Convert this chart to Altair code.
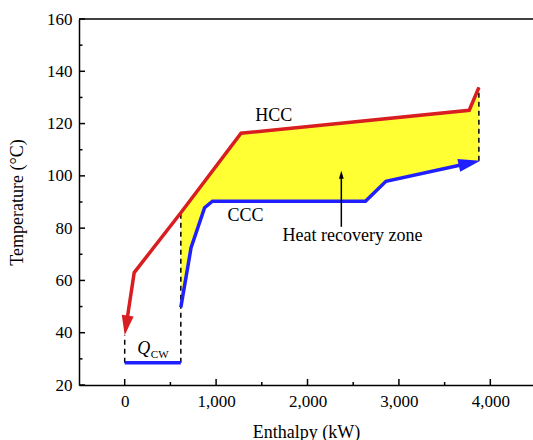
import altair as alt
import numpy as np
import pandas as pd

# ---- data ----
hcc_x = [16, 104, 614, 1273, 3769, 3875]
hcc_y = [42.8, 63, 85.9, 116.3, 125.1, 133.8]
hcc_tip = (0, 39)

ccc_x = [614, 726, 874, 960, 2634, 2858, 3790]
ccc_y = [49.7, 72.5, 87.8, 90.3, 90.3, 97.9, 105.0]
ccc_tip = (3890, 105.8)

qcw_x = [0, 614]
qcw_y = [28.5, 28.5]

dash_x = [0, 614, 3875]
dash_y1 = [28.5, 28.5, 105.8]
dash_y2 = [39, 85.9, 133.8]

x_major = [0, 1000, 2000, 3000, 4000]
x_minor = [500, 1500, 2500, 3500]
y_major = [20, 40, 60, 80, 100, 120, 140, 160]
y_minor = [30, 50, 70, 90, 110, 130, 150]

W, H = 454, 366
FONT = "Liberation Serif"
RED = "#d81e20"
BLUE = "#1f1fff"
YELLOW = "#ffff33"

xs = alt.Scale(domain=[-500, 4467], nice=False, zero=False)
ys = alt.Scale(domain=[20, 160], nice=False, zero=False)
common_axis = dict(ticks=False, grid=False, labelFont=FONT, titleFont=FONT,
                   labelFontSize=17, titleFontSize=18, titleFontWeight="normal",
                   labelColor="black", titleColor="black", domainColor="black",
                   domainWidth=1.5)
xaxis = alt.Axis(title="Enthalpy (kW)", values=x_major, format=",d",
                 labelPadding=8, titlePadding=14, **common_axis)
yaxis = alt.Axis(title="Temperature (°C)", values=y_major,
                 labelPadding=7, titlePadding=20, **common_axis)


def X(f):
    return alt.X(f, type="quantitative", scale=xs, axis=xaxis)


def Y(f):
    return alt.Y(f, type="quantitative", scale=ys, axis=yaxis)


# fill between curves
full_hx = [hcc_tip[0]] + hcc_x
full_hy = [hcc_tip[1]] + hcc_y
full_cx = ccc_x + [ccc_tip[0]]
full_cy = ccc_y + [ccc_tip[1]]
grid = sorted(set([v for v in hcc_x + ccc_x if 614 <= v <= 3875] + [3875]))
fill_df = pd.DataFrame({
    "x": grid,
    "top": np.interp(grid, full_hx, full_hy),
    "bot": np.interp(grid, full_cx, full_cy),
})
fill = alt.Chart(fill_df).mark_area(color=YELLOW, opacity=1).encode(
    x=X("x"), y=Y("top"), y2="bot")

hcc_df = pd.DataFrame({"x": hcc_x, "y": hcc_y, "o": range(len(hcc_x))})
ccc_df = pd.DataFrame({"x": ccc_x, "y": ccc_y, "o": range(len(ccc_x))})
qcw_df = pd.DataFrame({"x": qcw_x, "y": qcw_y, "o": range(len(qcw_x))})

hcc = alt.Chart(hcc_df).mark_line(color=RED, strokeWidth=3.5).encode(
    x=X("x"), y=Y("y"), order="o:Q")
ccc = alt.Chart(ccc_df).mark_line(color=BLUE, strokeWidth=3.5).encode(
    x=X("x"), y=Y("y"), order="o:Q")
qcw = alt.Chart(qcw_df).mark_line(color=BLUE, strokeWidth=3.5).encode(
    x=X("x"), y=Y("y"), order="o:Q")

dash_df = pd.DataFrame({"x": dash_x, "y1": dash_y1, "y2": dash_y2})
dashes = alt.Chart(dash_df).mark_rule(color="black", strokeWidth=1.5,
                                      strokeDash=[5, 4]).encode(
    x=X("x"), y=Y("y1"), y2="y2")

ARROW = "M0,0L0.6,2L-0.6,2Z"
heads_df = pd.DataFrame({
    "x": [hcc_tip[0], ccc_tip[0]],
    "y": [hcc_tip[1], ccc_tip[1]],
    "a": [188.6, 77.6],
    "c": [RED, BLUE],
    "s": [400, 484],
})
heads = alt.Chart(heads_df).mark_point(shape=ARROW, filled=True, opacity=1,
                                       strokeWidth=0).encode(
    x=X("x"), y=Y("y"), angle=alt.Angle("a:Q", scale=None),
    color=alt.Color("c:N", scale=None), size=alt.Size("s:Q", scale=None))

ann_x = [2370]
ann_y1 = [80.5]
ann_y2 = [100]
ann_df = pd.DataFrame({"x": ann_x, "y1": ann_y1, "y2": ann_y2})
ann_line = alt.Chart(ann_df).mark_rule(color="black", strokeWidth=1.5).encode(
    x=X("x"), y=Y("y1"), y2="y2")
ann_head = alt.Chart(pd.DataFrame({"x": [2370], "y": [102]})).mark_point(
    shape=ARROW, filled=True, opacity=1, color="black", size=64, strokeWidth=0
).encode(x=X("x"), y=Y("y"))

lbl_df = pd.DataFrame({
    "x": [1630, 1323, 2493],
    "y": [123, 84.6, 77],
    "t": ["HCC", "CCC", "Heat recovery zone"],
})
labels = alt.Chart(lbl_df).mark_text(font=FONT, fontSize=18, color="black",
                                     align="center", baseline="middle").encode(
    x=X("x"), y=Y("y"), text="t:N")
q_lbl = alt.Chart(pd.DataFrame({"x": [208], "y": [33.7], "t": ["Q"]})).mark_text(
    font=FONT, fontSize=18, fontStyle="italic", color="black",
    align="center", baseline="middle").encode(x=X("x"), y=Y("y"), text="t:N")
cw_lbl = alt.Chart(pd.DataFrame({"x": [383], "y": [31.5], "t": ["CW"]})).mark_text(
    font=FONT, fontSize=11, color="black",
    align="center", baseline="middle").encode(x=X("x"), y=Y("y"), text="t:N")


# inside ticks
def xticks(vals, ln):
    return alt.Chart(pd.DataFrame({"v": vals})).mark_rule(
        color="black", strokeWidth=1.5).encode(
        x=X("v"), y=alt.value(H), y2=alt.value(H - ln))


def yticks(vals, ln):
    return alt.Chart(pd.DataFrame({"v": vals})).mark_rule(
        color="black", strokeWidth=1.5).encode(
        y=Y("v"), x=alt.value(0), x2=alt.value(ln))


top_border = alt.Chart(pd.DataFrame({"v": [0]})).mark_rule(
    color="black", strokeWidth=1.5).encode(
    x=alt.value(0), x2=alt.value(W), y=alt.value(0))

chart = alt.layer(
    fill, dashes, hcc, ccc, qcw, heads, ann_line, ann_head,
    labels, q_lbl, cw_lbl,
    xticks(x_major, 6), xticks(x_minor, 3),
    yticks(y_major, 6), yticks(y_minor, 3.5),
    top_border,
).properties(
    width=W, height=H,
    background="white",
    autosize=alt.AutoSizeParams(type="none"),
    padding={"left": 79, "top": 19, "right": 0, "bottom": 55},
).configure_view(stroke=None)

chart.save("out.html", embed_options={"renderer": "svg", "actions": False})
